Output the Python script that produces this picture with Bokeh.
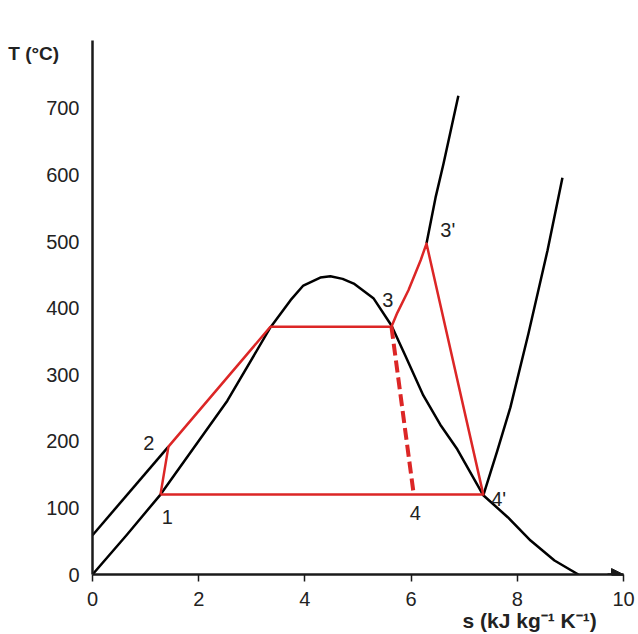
from bokeh.plotting import figure
from bokeh.models import Range1d, FixedTicker, Arrow, NormalHead, Title
from bokeh.core.properties import value
from bokeh.embed import file_html
from bokeh.resources import INLINE

# Saturation dome (s in kJ/kg/K, T in °C)
dome_s = [0, 0.64, 1.28, 2.54, 3.35, 3.73, 3.97, 4.29, 4.48, 4.71, 4.92, 5.29, 5.63, 5.89, 6.23, 6.55, 6.87, 7.36, 7.82, 8.25, 8.70, 9.15]
dome_T = [0, 59, 120, 261, 371, 412, 434, 446, 448, 444, 437, 415, 374, 329, 269, 225, 188, 119, 86, 51, 21, 0]

# compressed-liquid isobar (high pressure)
liq_s = [0, 1.43]
liq_T = [59, 192]

# superheated isobar (high pressure) above 3'
hp_s = [6.29, 6.46, 6.61, 6.75, 6.89]
hp_T = [497, 566, 617, 668, 719]

# superheated isobar (low pressure) from 4'
lp_s = [7.36, 7.62, 7.87, 8.21, 8.57, 8.85]
lp_T = [119, 185, 251, 362, 487, 596]

# cycle 1-2-3-3'-4'-1
cyc_s = [1.28, 1.43, 3.35, 5.63, 5.74, 5.95, 6.18, 6.29, 7.36, 1.28]
cyc_T = [120, 192, 372, 372, 393, 427, 472, 497, 120, 120]

# isentropic expansion 3-4
ise_s = [5.63, 6.05]
ise_T = [372, 120]

# point labels
pt_text = ["1", "2", "3", "3'", "4", "4'"]
pt_s = [1.41, 1.06, 5.56, 6.69, 6.08, 7.65]
pt_T = [86, 197, 412, 517, 92, 114]

x_ticks = [0, 2, 4, 6, 8, 10]
y_ticks = [0, 100, 200, 300, 400, 500, 600, 700]

FONT = "Liberation Sans"
RED = "#dc2626"
AXC = "#1a1a1a"
TXT = "#222222"

p = figure(width=638, height=634, x_range=Range1d(0, 10), y_range=Range1d(0, 802),
           output_backend="svg", toolbar_location=None,
           min_border_left=92, min_border_right=15, min_border_top=40, min_border_bottom=60)
p.xgrid.visible = False
p.ygrid.visible = False
p.outline_line_color = None
p.background_fill_color = "white"

p.xaxis.ticker = FixedTicker(ticks=x_ticks)
p.yaxis.ticker = FixedTicker(ticks=y_ticks)
p.axis.minor_tick_line_color = None
p.axis.axis_line_width = 2.5
p.axis.axis_line_color = AXC
p.axis.major_label_text_font = FONT
p.axis.major_label_text_font_size = "20px"
p.axis.major_label_text_color = TXT
p.yaxis.major_tick_line_color = None
p.yaxis.major_tick_in = 0
p.yaxis.major_tick_out = 0
p.yaxis.major_label_standoff = 13
p.xaxis.major_tick_in = 0
p.xaxis.major_tick_out = 7
p.xaxis.major_tick_line_width = 1.5
p.xaxis.major_tick_line_color = AXC
p.xaxis.major_label_standoff = 10

p.yaxis.axis_label = "\nT (\u00b0C)"
p.yaxis.axis_label_orientation = "horizontal"
p.yaxis.axis_label_align = "end"
p.yaxis.axis_label_standoff = -16
p.yaxis.axis_label_text_font = FONT
p.yaxis.axis_label_text_font_size = "19px"
p.yaxis.axis_label_text_font_style = "bold"
p.yaxis.axis_label_text_color = TXT

p.add_layout(Title(text="s (kJ kg\u207b\u00b9 K\u207b\u00b9)", align="left", offset=370, standoff=-4,
                   text_font=FONT, text_font_size="21px", text_font_style="bold",
                   text_color=TXT), "below")

p.add_layout(Arrow(end=NormalHead(size=12, fill_color=AXC, line_color=AXC),
                   x_start=9.7, y_start=0, x_end=10.0, y_end=0,
                   line_width=2.5, line_color=AXC))

p.line(dome_s, dome_T, line_color="black", line_width=2.5, line_join="round")
p.line(liq_s, liq_T, line_color="black", line_width=2.5)
p.line(hp_s, hp_T, line_color="black", line_width=2.5, line_join="round")
p.line(lp_s, lp_T, line_color="black", line_width=2.5, line_join="round")
p.line(cyc_s, cyc_T, line_color=RED, line_width=2.5, line_join="round")
p.line(ise_s, ise_T, line_color=RED, line_width=4, line_dash="12 5")

p.text(pt_s, pt_T, text=pt_text, text_font=value(FONT), text_font_size="20px",
       text_color=TXT, text_align="center", text_baseline="middle")

open("out.html", "w").write(file_html(p, INLINE))
